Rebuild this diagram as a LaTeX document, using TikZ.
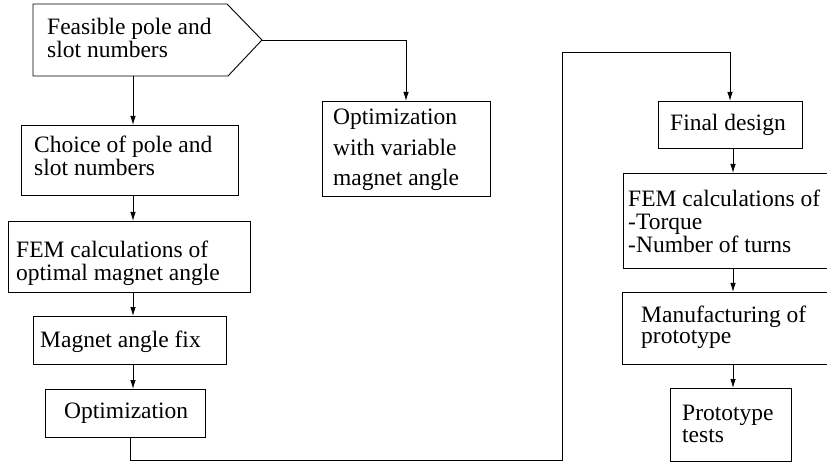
\documentclass[tikz,border=0pt]{standalone}
\usepackage{fontspec}
\setmainfont{Liberation Serif}
\usetikzlibrary{arrows.meta}
\newcommand\boxtext[2]{{\fontsize{23.5}{#1}\selectfont\begin{tabular}[t]{@{}l@{}}#2\end{tabular}}}
\tikzset{
  boxst/.style={draw, line width=0.9pt, inner sep=0pt, anchor=north west},
  txt/.style={inner sep=0pt, anchor=base west},
  conn/.style={line width=0.9pt},
  arr/.style={conn, -{Latex[length=9pt,width=5.5pt]}}
}
\begin{document}
\begin{tikzpicture}[x=1pt,y=-1pt]
\useasboundingbox (0,0) rectangle (827,462);
\clip (0,0) rectangle (827,462);
% pentagon
\draw[line width=0.9pt] (33,4) -- (227,4) -- (262,40) -- (228,76) -- (33,76) -- cycle;
\coordinate (feastip) at (262,40);
\coordinate (feasbot) at (133,76);
\node[txt] (feastxt) at (47,35) {\boxtext{20}{Feasible pole and\\slot numbers}};
% boxes
\node[boxst, minimum width=217, minimum height=70] (choice) at (21,125) {};
\node[txt] (choicetxt) at (34,153) {\boxtext{21}{Choice of pole and\\slot numbers}};
\node[boxst, minimum width=242, minimum height=71] (fem1) at (8,221) {};
\node[txt] (fem1txt) at (16,258) {\boxtext{20}{FEM calculations of\\optimal magnet angle}};
\node[boxst, minimum width=193, minimum height=48] (fix) at (33,316) {};
\node[txt] (fixtxt) at (40,347) {\boxtext{20}{Magnet angle fix}};
\node[boxst, minimum width=160, minimum height=48] (opt) at (45,389) {};
\node[txt] (opttxt) at (64,418) {\boxtext{20}{Optimization}};
\node[boxst, minimum width=168, minimum height=95] (optvar) at (322,101) {};
\node[txt] (optvartxt) at (333,125) {\boxtext{30.5}{Optimization\\with variable\\magnet angle}};
\node[boxst, minimum width=144, minimum height=47] (final) at (658,101) {};
\node[txt] (finaltxt) at (670,131) {\boxtext{20}{Final design}};
\node[boxst, minimum width=240, minimum height=95] (fem2) at (623,173) {};
\node[txt] (fem2txt) at (628,207) {\boxtext{22.5}{FEM calculations of\\-Torque\\-Number of turns}};
\node[boxst, minimum width=240, minimum height=72] (manuf) at (622,292) {};
\node[txt] (manuftxt) at (641,322) {\boxtext{21}{Manufacturing of\\prototype}};
\node[boxst, minimum width=121, minimum height=73] (proto) at (670,388) {};
\node[txt] (prototxt) at (682,420) {\boxtext{22}{Prototype\\tests}};
\coordinate (c1) at (130,460.5);
\coordinate (c2) at (562,460.5);
\coordinate (c3) at (562,52.7);
\coordinate (c4) at (730,52.7);
\coordinate (t1) at (406,40);
% connectors
\draw[arr] (feasbot) -- (choice.north -| feasbot);
\draw[arr] (choice.south -| feasbot) -- (fem1.north -| feasbot);
\draw[arr] (fem1.south -| feasbot) -- (fix.north -| feasbot);
\draw[arr] (fix.south -| feasbot) -- (opt.north -| feasbot);
\draw[arr] (feastip) -- (t1) -- (optvar.north -| t1);
\draw[arr] (opt.south -| c1) -- (c1) -- (c2) -- (c3) -- (c4) -- (final.north -| c4);
\coordinate (rx) at (733,0);
\draw[arr] (final.south -| rx) -- (fem2.north -| rx);
\draw[arr] (fem2.south -| rx) -- (manuf.north -| rx);
\draw[arr] (manuf.south -| rx) -- (proto.north -| rx);
\end{tikzpicture}
\end{document}
